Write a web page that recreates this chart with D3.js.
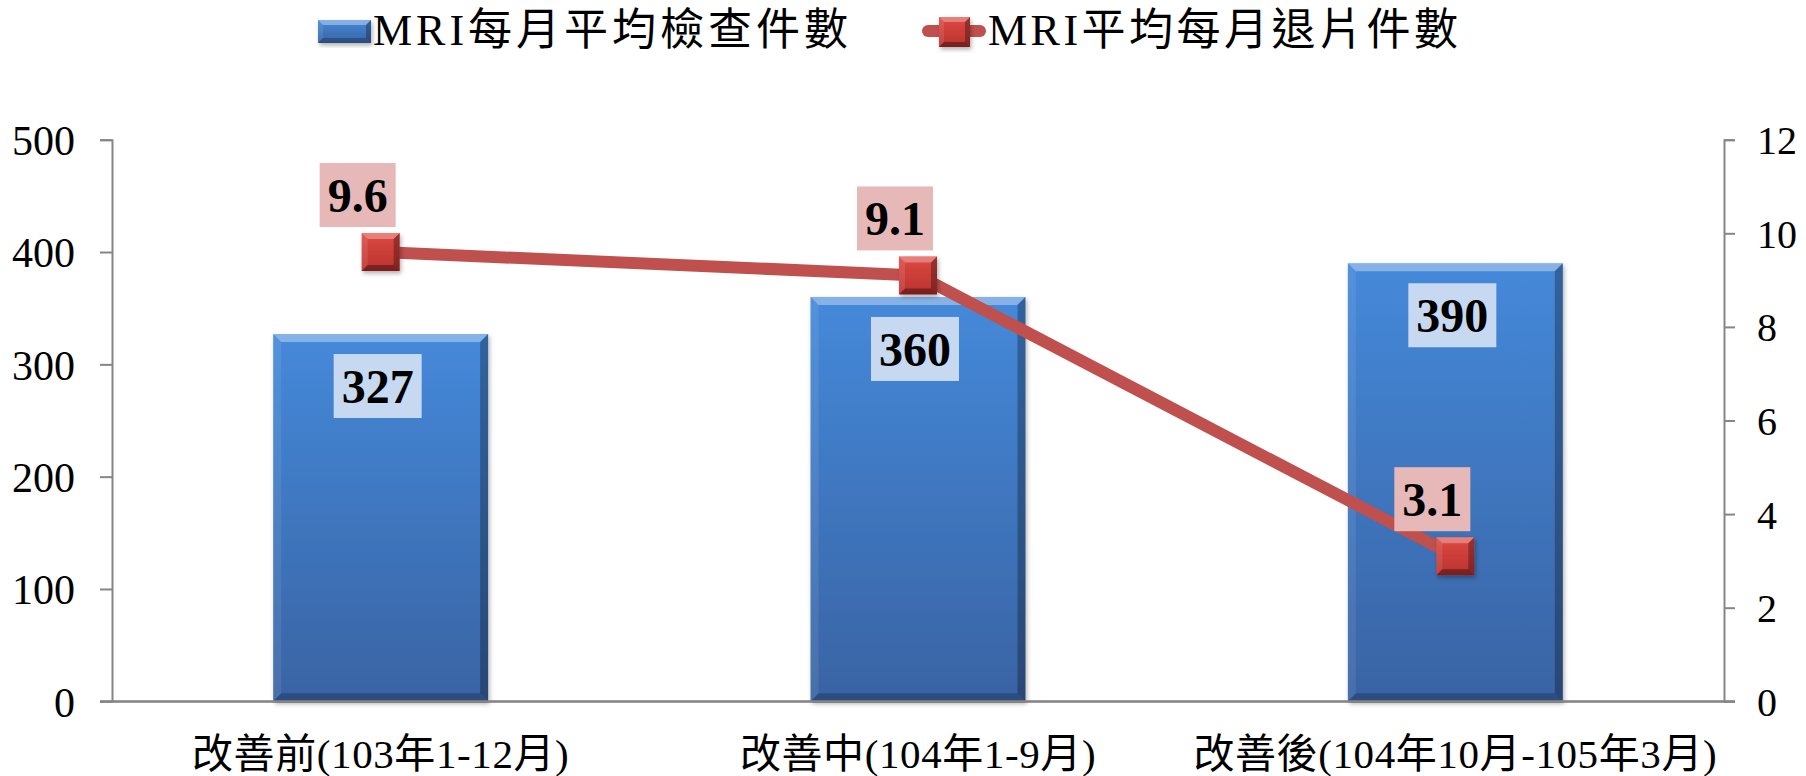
<!DOCTYPE html>
<html><head><meta charset="utf-8">
<script src="https://cdn.jsdelivr.net/npm/d3@7"></script>
<style>
html,body{margin:0;padding:0;background:#fff;}
svg{display:block;}
text{font-family:"Liberation Serif","Times New Roman","Noto Sans CJK TC",serif;fill:#000;}
</style></head>
<body>
<svg id="chart" width="1806" height="776"></svg>
<script>
const categories = ["改善前(103年1-12月)", "改善中(104年1-9月)", "改善後(104年10月-105年3月)"];
const examCounts = [327, 360, 390];
const rejectCounts = [9.6, 9.1, 3.1];
const leftTicks = [0, 100, 200, 300, 400, 500];
const rightTicks = [0, 2, 4, 6, 8, 10, 12];
const seriesNames = ["MRI每月平均檢查件數", "MRI平均每月退片件數"];

const svg = d3.select("#chart");
const plot = {left: 112, right: 1724, top: 139.7, bottom: 701.3};

const x = d3.scaleBand().domain(categories).range([plot.left, plot.right]).paddingInner(0.6).paddingOuter(0.3);
const y = d3.scaleLinear().domain([0, 500]).range([plot.bottom, plot.top]);
const y2 = d3.scaleLinear().domain([0, 12]).range([plot.bottom, plot.top]);

const defs = svg.append("defs");
const barGrad = defs.append("linearGradient").attr("id","barGrad").attr("x1",0).attr("y1",0).attr("x2",0).attr("y2",1);
barGrad.append("stop").attr("offset","0%").attr("stop-color","#4589DA");
barGrad.append("stop").attr("offset","100%").attr("stop-color","#3963A3");
const mkGrad = defs.append("linearGradient").attr("id","mkGrad").attr("x1",0).attr("y1",0).attr("x2",0).attr("y2",1);
mkGrad.append("stop").attr("offset","0%").attr("stop-color","#DE4943");
mkGrad.append("stop").attr("offset","100%").attr("stop-color","#B9322E");
const sh = defs.append("filter").attr("id","shadow").attr("x","-20%").attr("y","-20%").attr("width","140%").attr("height","140%");
sh.append("feDropShadow").attr("dx",1.5).attr("dy",2.5).attr("stdDeviation",2).attr("flood-color","#000").attr("flood-opacity",0.3);

function bevelBox(g, x0, y0, w, h, b, fill, opts) {
  const o = Object.assign({top:0.35,left:0.08,right:0.28,bottom:0.22}, opts||{});
  g.append("rect").attr("x",x0).attr("y",y0).attr("width",w).attr("height",h).attr("fill",fill).attr("filter","url(#shadow)");
  const P = pts => pts.map(p=>p.join(",")).join(" ");
  g.append("polygon").attr("points",P([[x0,y0],[x0+w,y0],[x0+w-b,y0+b],[x0+b,y0+b]])).attr("fill","#fff").attr("fill-opacity",o.top);
  g.append("polygon").attr("points",P([[x0,y0],[x0+b,y0+b],[x0+b,y0+h-b],[x0,y0+h]])).attr("fill","#fff").attr("fill-opacity",o.left);
  g.append("polygon").attr("points",P([[x0+w,y0],[x0+w,y0+h],[x0+w-b,y0+h-b],[x0+w-b,y0+b]])).attr("fill","#000").attr("fill-opacity",o.right);
  g.append("polygon").attr("points",P([[x0,y0+h],[x0+b,y0+h-b],[x0+w-b,y0+h-b],[x0+w,y0+h]])).attr("fill","#000").attr("fill-opacity",o.bottom);
}

// Axes
const axisColor = "#868686";
const gL = svg.append("g").attr("transform",`translate(${plot.left},0)`)
  .call(d3.axisLeft(y).tickValues(leftTicks).tickSize(12).tickPadding(25));
const gR = svg.append("g").attr("transform",`translate(${plot.right},0)`)
  .call(d3.axisRight(y2).tickValues(rightTicks).tickSize(11).tickPadding(22));
const gB = svg.append("g").attr("transform",`translate(0,${plot.bottom})`)
  .call(d3.axisBottom(x).tickSize(0));
[gL,gR,gB].forEach(g=>{
  g.select(".domain").attr("stroke",axisColor).attr("stroke-width",2);
  g.selectAll(".tick line").attr("stroke",axisColor).attr("stroke-width",2);
  g.selectAll("text").attr("fill","#000").style("font-family",'"Liberation Serif","Noto Sans CJK TC",serif');
});
gL.selectAll("text").style("font-size","42px").attr("dy","0.35em");
gR.selectAll("text").style("font-size","40px").attr("dy","0.35em");
gB.selectAll("text").style("font-size","41px").attr("y",67).attr("dy",0).style("letter-spacing","0.6px");

// Bars
const barsG = svg.append("g");
categories.forEach((c,i)=>{
  const x0 = x(c), w = x.bandwidth(), y0 = y(examCounts[i]), h = y(0)-y(examCounts[i]);
  bevelBox(barsG.append("g"), x0, y0, w, h, 8, "url(#barGrad)");
});
svg.append("line").attr("x1",plot.left-12).attr("x2",plot.right+11).attr("y1",plot.bottom).attr("y2",plot.bottom)
  .attr("stroke",axisColor).attr("stroke-width",2);

// Line
const cx = c => x(c) + x.bandwidth()/2;
const line = d3.line().x((d,i)=>cx(categories[i])).y(d=>y2(d));
svg.append("path").datum(rejectCounts).attr("d",line).attr("fill","none")
  .attr("stroke","#C0504D").attr("stroke-width",12).attr("stroke-linejoin","round");
const mk = 38;
rejectCounts.forEach((v,i)=>{
  bevelBox(svg.append("g"), cx(categories[i])-mk/2, y2(v)-mk/2, mk, mk, 6, "url(#mkGrad)", {top:0.3,left:0.1,right:0.3,bottom:0.35});
});

// Data labels
function labelBox(cxp, cyp, txt, bg) {
  const g = svg.append("g");
  const r = g.append("rect").attr("fill",bg);
  const t = g.append("text").attr("x",cxp).attr("y",cyp+17).attr("text-anchor","middle")
    .style("font-size","48px").style("font-weight","bold").text(txt);
  const bb = t.node().getBBox();
  const w = bb.width + 16;
  r.attr("x",cxp-w/2).attr("y",cyp-32).attr("width",w).attr("height",64);
}
categories.forEach((c,i)=>{
  labelBox(cx(c)-3, y(examCounts[i])+52, String(examCounts[i]), "#C6D9F1");
});
rejectCounts.forEach((v,i)=>{
  labelBox(cx(categories[i])-23, y2(v)-57, v.toFixed(1), "#E6B9B8");
});

// Legend
const lg = svg.append("g");
bevelBox(lg.append("g"), 318, 20, 53, 23, 5, "url(#barGrad)");
lg.append("text").attr("x",373).attr("y",45).style("font-size","44px").style("letter-spacing","4px").text(seriesNames[0]);
lg.append("line").attr("x1",928).attr("x2",980).attr("y1",31).attr("y2",31)
  .attr("stroke","#C0504D").attr("stroke-width",12).attr("stroke-linecap","round");
bevelBox(lg.append("g"), 939, 17, 31, 30, 5, "url(#mkGrad)", {top:0.3,left:0.1,right:0.3,bottom:0.35});
lg.append("text").attr("x",988).attr("y",45).style("font-size","44px").style("letter-spacing","3.5px").text(seriesNames[1]);
</script>
</body></html>
